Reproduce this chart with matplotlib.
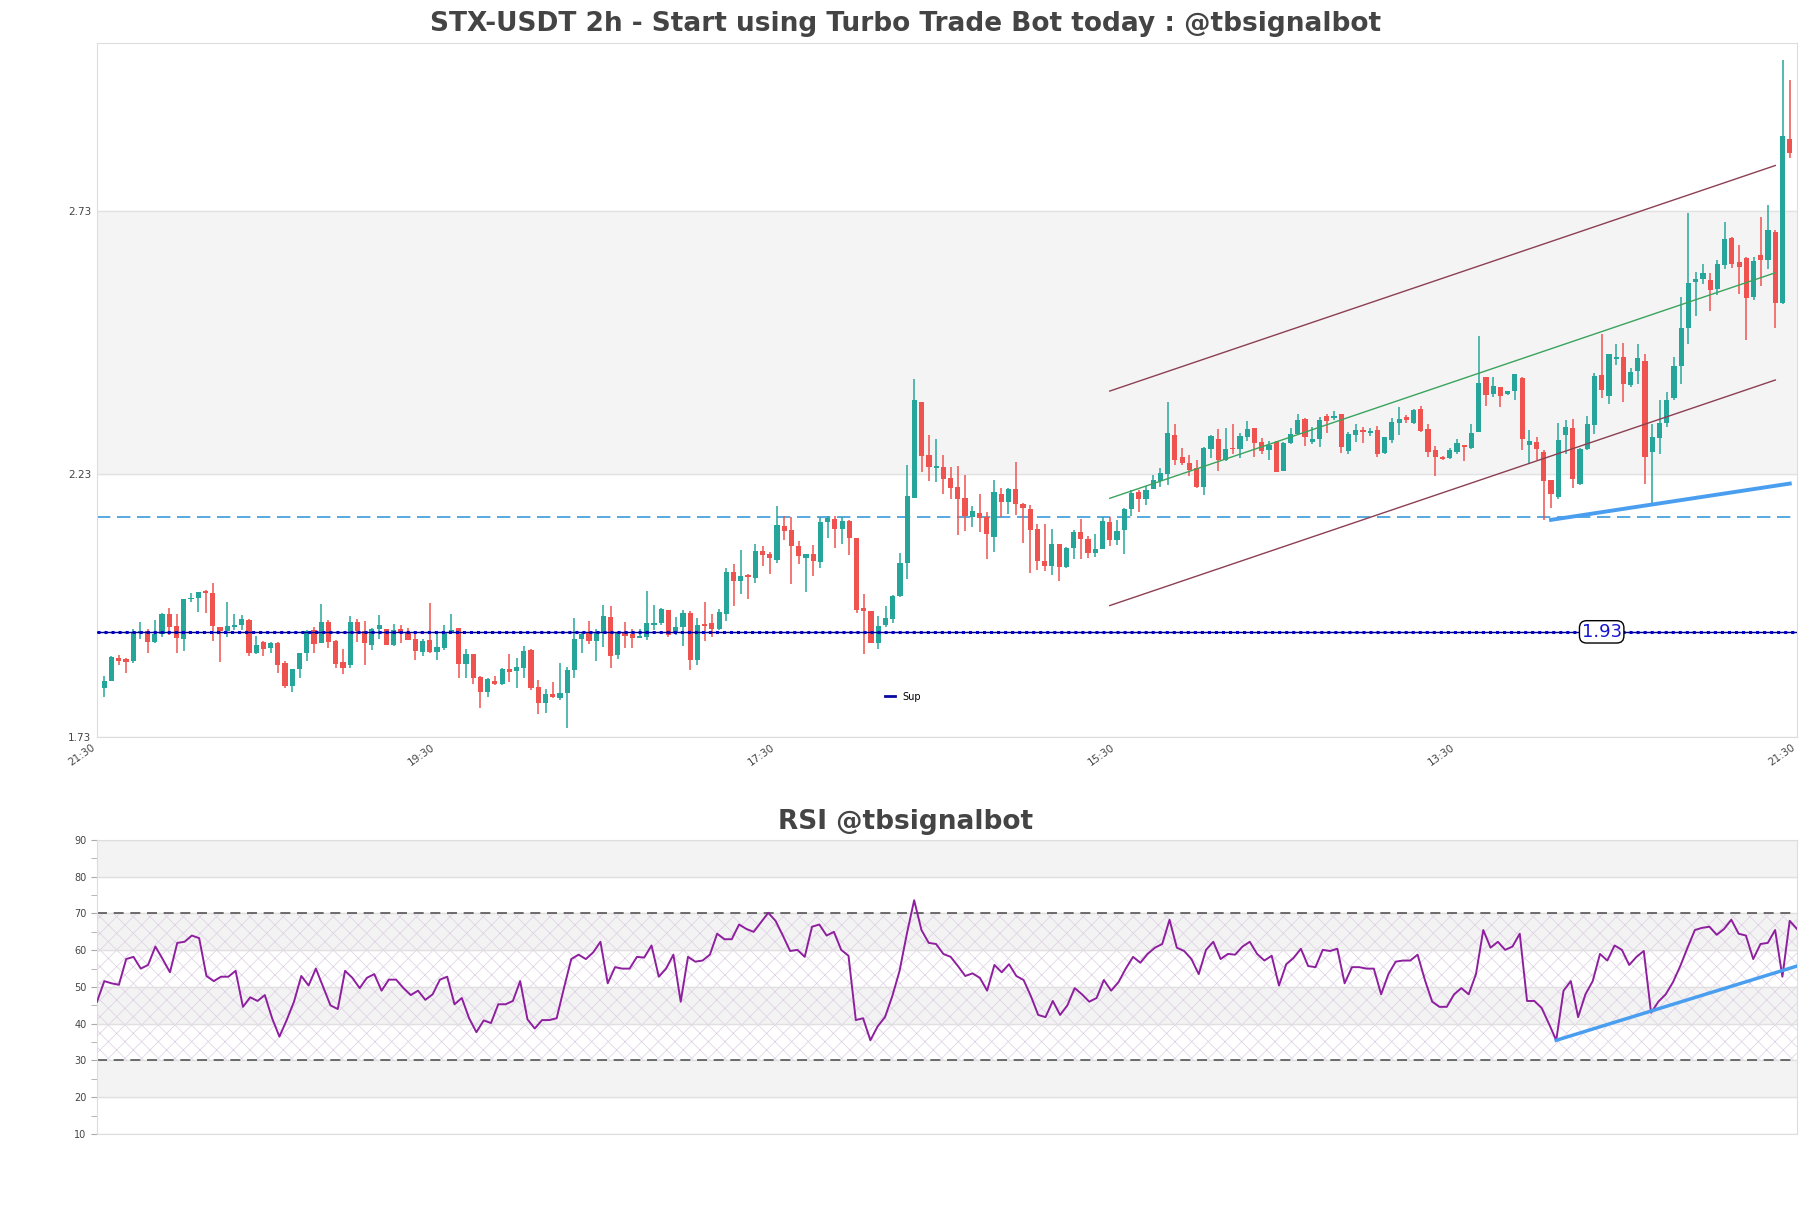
# imports
import matplotlib.pyplot as plt
from matplotlib.lines import Line2D
import numpy as np

plt.rcParams['hatch.linewidth'] = 0.5

# candle data, 2h bars
opens = [
    1.824, 1.837, 1.880, 1.879, 1.875, 1.927, 1.932, 1.911, 1.925, 1.964,
    1.941, 1.916, 1.992, 1.994, 2.008, 2.004, 1.939, 1.932, 1.940, 1.943,
    1.952, 1.890, 1.911, 1.900, 1.909, 1.871, 1.827, 1.859, 1.890, 1.933,
    1.909, 1.949, 1.913, 1.873, 1.866, 1.949, 1.931, 1.905, 1.935, 1.935,
    1.905, 1.935, 1.928, 1.916, 1.892, 1.914, 1.892, 1.900, 1.928, 1.937,
    1.869, 1.888, 1.844, 1.816, 1.837, 1.831, 1.859, 1.856, 1.862, 1.895,
    1.826, 1.794, 1.812, 1.805, 1.813, 1.857, 1.917, 1.927, 1.913, 1.927,
    1.958, 1.886, 1.927, 1.925, 1.919, 1.921, 1.943, 1.947, 1.971, 1.927,
    1.940, 1.966, 1.876, 1.945, 1.946, 1.935, 1.964, 2.044, 2.027, 2.038,
    2.033, 2.084, 2.079, 2.067, 2.131, 2.124, 2.093, 2.071, 2.079, 2.063,
    2.138, 2.144, 2.126, 2.141, 2.108, 1.975, 1.970, 1.909, 1.943, 1.954,
    1.998, 2.061, 2.185, 2.367, 2.267, 2.242, 2.243, 2.222, 2.205, 2.184,
    2.148, 2.157, 2.149, 2.111, 2.192, 2.177, 2.202, 2.174, 2.163, 2.125,
    2.065, 2.056, 2.098, 2.054, 2.089, 2.119, 2.106, 2.080, 2.087, 2.138,
    2.104, 2.124, 2.163, 2.196, 2.182, 2.202, 2.217, 2.230, 2.304, 2.262,
    2.252, 2.241, 2.206, 2.278, 2.297, 2.257, 2.278, 2.277, 2.300, 2.317,
    2.291, 2.276, 2.292, 2.236, 2.290, 2.307, 2.334, 2.291, 2.296, 2.340,
    2.336, 2.344, 2.274, 2.304, 2.312, 2.309, 2.314, 2.271, 2.295, 2.328,
    2.339, 2.328, 2.353, 2.316, 2.276, 2.263, 2.260, 2.272, 2.286, 2.279,
    2.311, 2.414, 2.382, 2.396, 2.382, 2.389, 2.412, 2.285, 2.291, 2.273,
    2.219, 2.187, 2.304, 2.317, 2.211, 2.278, 2.323, 2.418, 2.379, 2.449,
    2.453, 2.399, 2.426, 2.446, 2.272, 2.298, 2.328, 2.374, 2.435, 2.508,
    2.596, 2.601, 2.599, 2.583, 2.628, 2.680, 2.634, 2.642, 2.567, 2.646,
    2.638, 2.691, 2.555, 2.868,
]
highs = [
    1.846, 1.884, 1.886, 1.881, 1.935, 1.949, 1.935, 1.952, 1.965, 1.975,
    1.963, 1.992, 2.003, 2.005, 2.010, 2.022, 1.939, 1.986, 1.963, 1.962,
    1.954, 1.922, 1.913, 1.911, 1.911, 1.875, 1.859, 1.890, 1.933, 1.939,
    1.983, 1.952, 1.914, 1.897, 1.960, 1.954, 1.951, 1.937, 1.962, 1.935,
    1.944, 1.943, 1.938, 1.925, 1.916, 1.984, 1.927, 1.943, 1.963, 1.937,
    1.897, 1.888, 1.846, 1.843, 1.846, 1.862, 1.888, 1.881, 1.903, 1.897,
    1.838, 1.821, 1.834, 1.870, 1.864, 1.956, 1.927, 1.951, 1.935, 1.981,
    1.979, 1.928, 1.949, 1.936, 1.935, 2.008, 1.981, 1.976, 1.971, 1.958,
    1.971, 1.970, 1.956, 1.986, 1.964, 1.974, 2.052, 2.060, 2.086, 2.040,
    2.097, 2.094, 2.082, 2.169, 2.150, 2.149, 2.102, 2.078, 2.096, 2.148,
    2.151, 2.151, 2.148, 2.143, 2.109, 2.002, 1.970, 1.960, 1.979, 2.000,
    2.080, 2.247, 2.411, 2.367, 2.305, 2.297, 2.266, 2.244, 2.245, 2.228,
    2.169, 2.192, 2.158, 2.219, 2.204, 2.204, 2.253, 2.176, 2.171, 2.136,
    2.136, 2.125, 2.098, 2.091, 2.123, 2.144, 2.113, 2.117, 2.148, 2.149,
    2.143, 2.165, 2.200, 2.200, 2.207, 2.229, 2.241, 2.367, 2.326, 2.279,
    2.266, 2.257, 2.282, 2.304, 2.315, 2.317, 2.326, 2.309, 2.331, 2.318,
    2.299, 2.293, 2.293, 2.291, 2.317, 2.344, 2.336, 2.319, 2.339, 2.344,
    2.350, 2.344, 2.310, 2.326, 2.320, 2.317, 2.321, 2.301, 2.336, 2.357,
    2.343, 2.353, 2.359, 2.326, 2.283, 2.265, 2.279, 2.297, 2.286, 2.325,
    2.492, 2.415, 2.414, 2.396, 2.388, 2.421, 2.414, 2.314, 2.301, 2.276,
    2.219, 2.328, 2.333, 2.334, 2.279, 2.340, 2.423, 2.497, 2.459, 2.478,
    2.480, 2.431, 2.478, 2.458, 2.326, 2.371, 2.387, 2.453, 2.566, 2.726,
    2.615, 2.629, 2.613, 2.637, 2.710, 2.681, 2.665, 2.643, 2.643, 2.720,
    2.741, 2.694, 3.018, 2.980,
]
lows = [
    1.807, 1.836, 1.867, 1.852, 1.871, 1.916, 1.890, 1.908, 1.921, 1.924,
    1.889, 1.894, 1.987, 1.968, 1.965, 1.913, 1.873, 1.921, 1.933, 1.933,
    1.885, 1.887, 1.885, 1.889, 1.851, 1.823, 1.816, 1.842, 1.875, 1.890,
    1.909, 1.900, 1.861, 1.850, 1.861, 1.911, 1.867, 1.895, 1.916, 1.905,
    1.903, 1.909, 1.914, 1.876, 1.884, 1.890, 1.876, 1.895, 1.927, 1.842,
    1.843, 1.830, 1.786, 1.807, 1.829, 1.829, 1.835, 1.824, 1.843, 1.819,
    1.773, 1.775, 1.805, 1.800, 1.747, 1.842, 1.889, 1.907, 1.875, 1.902,
    1.862, 1.879, 1.899, 1.900, 1.919, 1.914, 1.933, 1.943, 1.921, 1.924,
    1.903, 1.857, 1.867, 1.912, 1.921, 1.933, 1.951, 1.980, 2.002, 1.992,
    2.023, 2.056, 2.040, 2.061, 2.104, 2.021, 2.060, 2.006, 2.036, 2.052,
    2.108, 2.090, 2.097, 2.076, 1.965, 1.888, 1.908, 1.897, 1.940, 1.947,
    1.997, 2.030, 2.185, 2.234, 2.217, 2.215, 2.192, 2.182, 2.115, 2.122,
    2.130, 2.120, 2.068, 2.082, 2.149, 2.155, 2.152, 2.099, 2.041, 2.048,
    2.046, 2.038, 2.027, 2.051, 2.068, 2.068, 2.070, 2.073, 2.087, 2.093,
    2.095, 2.079, 2.151, 2.158, 2.171, 2.202, 2.206, 2.210, 2.247, 2.247,
    2.226, 2.204, 2.191, 2.260, 2.236, 2.255, 2.268, 2.260, 2.293, 2.263,
    2.269, 2.257, 2.234, 2.236, 2.288, 2.305, 2.284, 2.288, 2.282, 2.309,
    2.333, 2.271, 2.269, 2.291, 2.290, 2.302, 2.262, 2.269, 2.290, 2.304,
    2.328, 2.325, 2.311, 2.262, 2.226, 2.257, 2.258, 2.269, 2.255, 2.278,
    2.311, 2.360, 2.377, 2.357, 2.381, 2.371, 2.276, 2.252, 2.257, 2.143,
    2.165, 2.182, 2.269, 2.203, 2.209, 2.276, 2.307, 2.374, 2.363, 2.437,
    2.368, 2.395, 2.402, 2.212, 2.174, 2.269, 2.320, 2.371, 2.402, 2.478,
    2.531, 2.592, 2.540, 2.570, 2.621, 2.623, 2.572, 2.486, 2.562, 2.587,
    2.621, 2.507, 2.554, 2.832,
]
closes = [
    1.837, 1.883, 1.875, 1.873, 1.928, 1.932, 1.911, 1.926, 1.963, 1.940,
    1.919, 1.992, 1.994, 2.005, 2.003, 1.942, 1.932, 1.941, 1.943, 1.954,
    1.890, 1.905, 1.898, 1.909, 1.866, 1.827, 1.859, 1.890, 1.931, 1.907,
    1.949, 1.911, 1.869, 1.862, 1.949, 1.931, 1.909, 1.935, 1.943, 1.905,
    1.934, 1.929, 1.914, 1.894, 1.912, 1.891, 1.901, 1.930, 1.933, 1.869,
    1.888, 1.843, 1.816, 1.840, 1.831, 1.859, 1.854, 1.863, 1.893, 1.823,
    1.795, 1.812, 1.807, 1.813, 1.857, 1.916, 1.926, 1.913, 1.928, 1.960,
    1.885, 1.927, 1.923, 1.919, 1.921, 1.947, 1.947, 1.973, 1.924, 1.939,
    1.966, 1.876, 1.943, 1.942, 1.935, 1.967, 2.044, 2.027, 2.036, 2.034,
    2.084, 2.076, 2.071, 2.133, 2.122, 2.094, 2.075, 2.078, 2.065, 2.138,
    2.147, 2.125, 2.141, 2.108, 1.971, 1.970, 1.909, 1.941, 1.957, 1.998,
    2.061, 2.188, 2.371, 2.265, 2.244, 2.244, 2.220, 2.203, 2.182, 2.150,
    2.160, 2.146, 2.117, 2.196, 2.177, 2.202, 2.174, 2.165, 2.123, 2.065,
    2.056, 2.098, 2.054, 2.089, 2.120, 2.107, 2.080, 2.087, 2.141, 2.104,
    2.122, 2.163, 2.195, 2.182, 2.200, 2.219, 2.232, 2.309, 2.257, 2.252,
    2.238, 2.205, 2.280, 2.303, 2.257, 2.277, 2.277, 2.302, 2.315, 2.290,
    2.274, 2.286, 2.234, 2.290, 2.307, 2.333, 2.300, 2.296, 2.333, 2.331,
    2.340, 2.281, 2.307, 2.314, 2.311, 2.311, 2.269, 2.300, 2.330, 2.335,
    2.333, 2.352, 2.312, 2.272, 2.262, 2.258, 2.276, 2.290, 2.281, 2.309,
    2.404, 2.381, 2.397, 2.379, 2.388, 2.420, 2.296, 2.293, 2.278, 2.217,
    2.193, 2.295, 2.320, 2.220, 2.277, 2.325, 2.416, 2.390, 2.458, 2.453,
    2.402, 2.425, 2.450, 2.262, 2.301, 2.328, 2.371, 2.435, 2.507, 2.594,
    2.601, 2.612, 2.581, 2.629, 2.677, 2.629, 2.624, 2.565, 2.636, 2.637,
    2.694, 2.556, 2.873, 2.841,
]

# rsi line
rsi = [
    46, 51.6, 51, 50.6, 57.6, 58.2, 55, 56, 61, 57.6,
    54, 62, 62.3, 64, 63.3, 53, 51.6, 52.8, 52.8, 54.4,
    44.6, 47.2, 46.2, 47.8, 41.5, 36.5, 41, 46, 53, 50.4,
    55, 50, 45, 44, 54.4, 52.5, 49.7, 52.5, 53.5, 49,
    52, 52, 49.7, 47.8, 49, 46.5, 48, 52, 52.8, 45.3,
    47, 41.5, 37.7, 40.9, 40.2, 45.3, 45.3, 46.2, 51.6, 41.2,
    38.7, 41, 41, 41.5, 49.7, 57.6, 58.8, 57.6, 59.4, 62.3,
    51, 55.4, 55, 55, 58.2, 58, 61.3, 52.8, 55, 58.8,
    46, 58.2, 56.9, 57.2, 58.8, 64.5, 63, 63, 67, 65.8,
    65, 67.6, 70.2, 68, 64, 59.8, 60.1, 58.2, 66.4, 67,
    64, 65, 60.1, 58.5, 41, 41.5, 35.5, 39.3, 41.8, 47.5,
    54.4, 64.5, 73.6, 65.5, 62, 61.7, 59, 58.2, 55.7, 53,
    53.7, 52.5, 49, 56, 54, 56.2, 53, 51.9, 47.5, 42.4,
    41.8, 46.2, 42.4, 45, 49.7, 48, 46, 47, 51.9, 49,
    51.3, 55, 58.2, 56.6, 59, 60.7, 61.7, 68.3, 60.7, 59.8,
    57.6, 53.5, 60.1, 62.3, 57.6, 59, 58.8, 61, 62.3, 59,
    57.2, 58.5, 50.4, 56.2, 57.9, 60.4, 55.7, 55.4, 60.1, 59.8,
    60.4, 51, 55.4, 55.4, 55, 55, 48, 53.5, 56.9, 57.2,
    57.2, 58.8, 51.9, 46, 44.6, 44.6, 48, 49.7, 48, 53.5,
    65.5, 60.7, 62.3, 60.1, 61, 64.5, 46.2, 46.2, 44.3, 40,
    35.5, 49, 51.6, 41.8, 48, 51.6, 59, 57.2, 61.3, 60.1,
    56, 58.2, 59.8, 43, 46, 48, 51.3, 55.7, 60.7, 65.5,
    66.1, 66.4, 64.2, 65.8, 68.3, 64.5, 64, 57.6, 61.7, 62,
    65.5, 52.8, 68, 65.8,
]

tick_labels = ['21:30', '19:30', '17:30', '15:30', '13:30', '21:30']
sup_level = 1.93
resist_level = 2.148
price_ticks = [1.73, 2.23, 2.73]

# trend channel (start idx, end idx, mid start, mid end, half width)
chan_x = [139, 231]
chan_mid = [2.184, 2.613]
chan_half = 0.204
# support trendlines
sup_tl_x = [200, 233]
sup_tl_y = [2.143, 2.212]
rsi_tl_x = [200, 233]
rsi_tl_y = [35.5, 55.7]

up_col = '#26a69a'
dn_col = '#ef5350'
grey_txt = '#444444'
spine_col = '#dddddd'

n = len(closes)
idx = np.arange(n)
o = np.array(opens)
h = np.array(highs)
l = np.array(lows)
c = np.array(closes)

fig = plt.figure(figsize=(18.11, 12.08), dpi=100)
ax = fig.add_axes([0.05356, 0.3899, 0.93871, 0.5745])
ax2 = fig.add_axes([0.05356, 0.06126, 0.93871, 0.24338])

# price panel
ax.axhspan(2.23, 2.73, color='#f4f4f4', zorder=0)
for yv in price_ticks:
    ax.axhline(yv, color='#e2e2e2', lw=1, zorder=0.5)

cols = np.where(c >= o, up_col, dn_col)
ax.vlines(idx, l, h, colors=cols, lw=1.1, zorder=2)
body = np.maximum(np.abs(c - o), 0.003)
ax.bar(idx, body, bottom=np.minimum(o, c), width=0.72, color=cols, zorder=3)

ax.axhline(sup_level, color='#000080', lw=1.0, zorder=4)
ax.axhline(sup_level, color='#0000c8', lw=2.2, linestyle=(0, (1, 1.3)), zorder=4)
ax.axhline(resist_level, color='#3a9bd9', lw=1.2, linestyle=(0, (8, 4)), zorder=1.5)

ax.plot(chan_x, [m + chan_half for m in chan_mid], color='#8c3f52', lw=1.0, zorder=4)
ax.plot(chan_x, [m - chan_half for m in chan_mid], color='#8c3f52', lw=1.0, zorder=4)
ax.plot(chan_x, chan_mid, color='#3aa35c', lw=1.0, zorder=4)
ax.plot(sup_tl_x, sup_tl_y, color='#4a9ef0', lw=2.8, zorder=5)

ax.text(207, sup_level, '%.2f' % sup_level, color='#1515d0', fontsize=13,
        ha='center', va='center', zorder=6,
        bbox=dict(boxstyle='round,pad=0.12,rounding_size=0.4', fc='white', ec='black', lw=1))

ax.legend(handles=[Line2D([], [], color='#0a0aa0', lw=2, label='Sup')],
          loc='center left', bbox_to_anchor=(0.4635, 0.058), frameon=False,
          fontsize=7, handlelength=1.0, handletextpad=0.8,
          borderaxespad=0, borderpad=0)

ax.set_xlim(-1, n)
ax.set_ylim(1.73, 3.05)
ax.set_yticks(price_ticks)
ax.set_yticklabels(['%.2f' % v for v in price_ticks])
ax.set_xticks(np.linspace(-1, n, len(tick_labels)))
ax.set_xticklabels(tick_labels, rotation=35, ha='right')
ax.tick_params(axis='both', length=0, labelsize=7.5, colors=grey_txt, pad=4)
for sp in ax.spines.values():
    sp.set_color(spine_col)

# rsi panel
for lo in (80, 60, 40, 20):
    ax2.axhspan(lo, lo + 10, color='#f3f3f3', zorder=0)
ax2.fill_between([0, n - 1], 30, 70, facecolor='none', edgecolor='#dccfe2',
                 hatch='xx', lw=0, zorder=0.5)
for yv in range(10, 91, 10):
    ax2.axhline(yv, color='#e0e0e0', lw=1, zorder=0.6)
ax2.axhline(70, color='#555555', lw=1.2, linestyle=(0, (6, 4)), zorder=1)
ax2.axhline(30, color='#555555', lw=1.2, linestyle=(0, (6, 4)), zorder=1)
ax2.plot(idx, rsi, color='#8e1f9e', lw=1.4, zorder=3)
ax2.plot(rsi_tl_x, rsi_tl_y, color='#4a9ef0', lw=2.5, zorder=4)

ax2.set_xlim(0, n - 1)
ax2.set_ylim(10, 90)
ax2.set_yticks(range(10, 91, 10))
ax2.set_yticks(range(15, 90, 10), minor=True)
ax2.set_xticks([])
ax2.tick_params(axis='y', which='both', length=4, color='#aaaaaa',
                labelsize=7, labelcolor=grey_txt)
for sp in ax2.spines.values():
    sp.set_color(spine_col)

# titles
fig.text(0.5, 0.980, 'STX-USDT 2h - Start using Turbo Trade Bot today : @tbsignalbot',
         ha='center', va='center', fontsize=19, fontweight='bold', color=grey_txt)
fig.text(0.5, 0.3195, 'RSI @tbsignalbot', ha='center', va='center',
         fontsize=19, fontweight='bold', color=grey_txt)

fig.savefig('out.png', dpi=100)
